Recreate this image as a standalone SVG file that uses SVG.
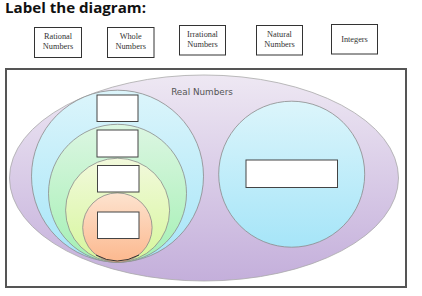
<svg xmlns="http://www.w3.org/2000/svg" width="422" height="296" viewBox="0 0 422 296">
<defs>
<linearGradient id="gPurple" x1="0" y1="0" x2="0" y2="1"><stop offset="0" stop-color="#eee8f3"/><stop offset="1" stop-color="#c4afdb"/></linearGradient>
<linearGradient id="gBlue" x1="0" y1="0" x2="0" y2="1"><stop offset="0" stop-color="#dcf5fb"/><stop offset="1" stop-color="#a6e5f8"/></linearGradient>
<linearGradient id="gGreen" x1="0" y1="0" x2="0" y2="1"><stop offset="0" stop-color="#dcf6e2"/><stop offset="1" stop-color="#a4f0b4"/></linearGradient>
<linearGradient id="gYellow" x1="0" y1="0" x2="0" y2="1"><stop offset="0" stop-color="#f2f9dc"/><stop offset="1" stop-color="#d6f79c"/></linearGradient>
<linearGradient id="gOrange" x1="0" y1="0" x2="0" y2="1"><stop offset="0" stop-color="#fde3cf"/><stop offset="1" stop-color="#fcb88e"/></linearGradient>
</defs>
<style>
.lbl{fill:#fff;stroke:#333;stroke-width:1}
.lt{font-family:"Liberation Serif",serif;font-size:8.3px;fill:#333;text-anchor:middle}
.set{stroke:#8a8a8a;stroke-width:0.8}
.blank{fill:#fff;stroke:#444;stroke-width:1}
</style>
<rect width="422" height="296" fill="#fff"/>
<text x="5" y="12.5" font-family="'Open Sans',sans-serif" font-weight="bold" font-size="13.5" fill="#111" textLength="141" lengthAdjust="spacingAndGlyphs">Label the diagram:</text>
<g id="label-rational"><rect class="lbl" x="34.5" y="27.5" width="47" height="30"/><text class="lt" x="58" y="38.5">Rational</text><text class="lt" x="58" y="48.5">Numbers</text></g>
<g id="label-whole"><rect class="lbl" x="107.5" y="27.5" width="46.5" height="30"/><text class="lt" x="130.7" y="38.5">Whole</text><text class="lt" x="130.7" y="48.5">Numbers</text></g>
<g id="label-irrational"><rect class="lbl" x="179.5" y="25.5" width="46" height="29.5"/><text class="lt" x="202.5" y="36.5">Irrational</text><text class="lt" x="202.5" y="46.5">Numbers</text></g>
<g id="label-natural"><rect class="lbl" x="256.5" y="25.5" width="46" height="29.5"/><text class="lt" x="279.5" y="36.5">Natural</text><text class="lt" x="279.5" y="46.5">Numbers</text></g>
<g id="label-integers"><rect class="lbl" x="331.5" y="24.5" width="46" height="29.5"/><text class="lt" x="354.5" y="41.5">Integers</text></g>
<g id="frame"><rect x="6" y="69" width="400" height="218" fill="#fff" stroke="#555" stroke-width="2"/></g>
<g id="real-numbers">
<ellipse cx="204" cy="178" rx="194.5" ry="103" fill="url(#gPurple)" stroke="#aaa" stroke-width="0.8"/>
<text x="202" y="94.5" font-family="'DejaVu Sans',Verdana,sans-serif" font-size="8.8" fill="#555" text-anchor="middle">Real Numbers</text>
</g>
<g id="rational-set"><circle class="set" cx="117.5" cy="176.2" r="86" fill="url(#gBlue)"/></g>
<g id="integer-set"><circle class="set" cx="117.5" cy="193.3" r="69" fill="url(#gGreen)"/></g>
<g id="whole-set"><circle class="set" cx="117.6" cy="210.2" r="52" fill="url(#gYellow)"/></g>
<g id="natural-set"><circle cx="117.4" cy="227.6" r="34.7" fill="url(#gOrange)" stroke="#888" stroke-width="0.8"/><path d="M96 255 Q117 267 139 255" fill="none" stroke="#333" stroke-width="1"/></g>
<g id="irrational-set"><circle class="set" cx="291.7" cy="174.2" r="73" fill="url(#gBlue)"/></g>
<g id="blanks">
<rect class="blank" x="97" y="95" width="41" height="26.5" stroke="#999"/>
<rect class="blank" x="97" y="130" width="41" height="27"/>
<rect class="blank" x="97.5" y="165.5" width="41.5" height="26.5"/>
<rect class="blank" x="97.5" y="212" width="41.5" height="26.5" stroke="#666"/>
<rect class="blank" x="246" y="160" width="91.5" height="27.5"/>
</g>
<g id="connectors"/>
</svg>
